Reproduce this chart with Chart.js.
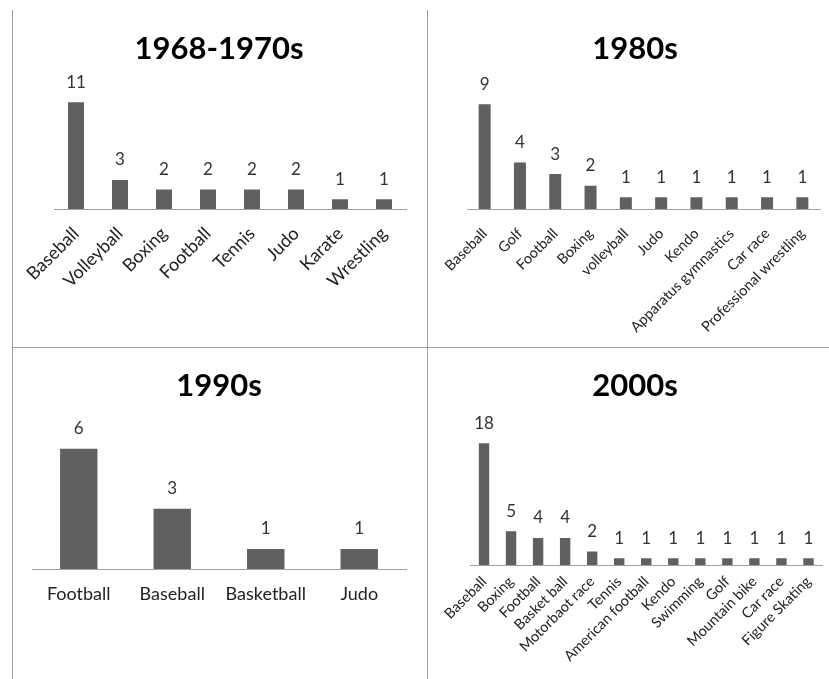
<!DOCTYPE html>
<html>
<head>
<meta charset="utf-8">
<script src="https://cdn.jsdelivr.net/npm/chart.js@4.4.1/dist/chart.umd.min.js"></script>
<style>
  html, body { margin: 0; padding: 0; background: #fff; }
  #page { position: relative; width: 829px; height: 679px; overflow: hidden; }
  .rule { position: absolute; background: #a0a0a0; }
  canvas { position: absolute; }
</style>
</head>
<body>
<div id="page">
  <div class="rule" style="left:12px; top:10px; width:1px; height:669px;"></div>
  <div class="rule" style="left:427px; top:10px; width:1px; height:669px;"></div>
  <div class="rule" style="left:12px; top:347px; width:817px; height:1px;"></div>
  <canvas id="c1968" width="413" height="346" style="left:13px; top:0px;"></canvas>
  <canvas id="c1980" width="401" height="346" style="left:428px; top:0px;"></canvas>
  <canvas id="c1990" width="413" height="331" style="left:13px; top:348px;"></canvas>
  <canvas id="c2000" width="401" height="331" style="left:428px; top:348px;"></canvas>
</div>
<script>
// ---- data ----
const cats1968 = ['Baseball', 'Volleyball', 'Boxing', 'Football', 'Tennis', 'Judo', 'Karate', 'Wrestling'];
const vals1968 = [11, 3, 2, 2, 2, 2, 1, 1];

const cats1980 = ['Baseball', 'Golf', 'Football', 'Boxing', 'volleyball', 'Judo', 'Kendo',
                  'Apparatus gymnastics', 'Car race', 'Professional wrestling'];
const vals1980 = [9, 4, 3, 2, 1, 1, 1, 1, 1, 1];

const cats1990 = ['Football', 'Baseball', 'Basketball', 'Judo'];
const vals1990 = [6, 3, 1, 1];

const cats2000 = ['Baseball', 'Boxing', 'Football', 'Basket ball', 'Motorbaot race', 'Tennis',
                  'American football', 'Kendo', 'Swimming', 'Golf', 'Mountain bike', 'Car race',
                  'Figure Skating'];
const vals2000 = [18, 5, 4, 4, 2, 1, 1, 1, 1, 1, 1, 1, 1];

const FONT = 'Lato, "Open Sans", sans-serif';
const BAR = '#606060';

// value labels above each bar
const valueLabels = {
    id: 'valueLabels',
    afterDatasetsDraw(chart) {
        const ctx = chart.ctx;
        const meta = chart.getDatasetMeta(0);
        const data = chart.data.datasets[0].data;
        ctx.save();
        ctx.font = '17px ' + FONT;
        ctx.fillStyle = '#333';
        ctx.textAlign = 'center';
        ctx.textBaseline = 'middle';
        meta.data.forEach((bar, i) => {
            ctx.fillText(String(data[i]), bar.x, bar.y - 20);
        });
        ctx.restore();
    }
};

function makeChart(id, title, cats, vals, o) {
    return new Chart(document.getElementById(id), {
        type: 'bar',
        data: {
            labels: cats,
            datasets: [{
                data: vals,
                backgroundColor: BAR,
                categoryPercentage: 1,
                barPercentage: o.bar
            }]
        },
        options: {
            responsive: false,
            animation: false,
            devicePixelRatio: 1,
            layout: { padding: { left: o.padL, right: o.padR, top: 0, bottom: 0 } },
            plugins: {
                legend: { display: false },
                tooltip: { enabled: false },
                title: {
                    display: true,
                    text: title,
                    color: '#000',
                    font: { family: FONT, size: 31, weight: 'bold' },
                    padding: { top: o.titleTop, bottom: o.titleBottom }
                }
            },
            scales: {
                x: {
                    grid: { display: false, drawTicks: false },
                    border: { display: true, color: '#a0a0a0', width: 1 },
                    ticks: {
                        autoSkip: false,
                        minRotation: o.rot,
                        maxRotation: o.rot,
                        padding: o.tickPad,
                        color: '#222',
                        font: { family: FONT, size: o.tickSize }
                    },
                    afterFit(scale) {
                        scale.height = o.xHeight;
                        scale.paddingLeft = 0;
                        scale.paddingRight = 0;
                    }
                },
                y: {
                    min: 0,
                    max: o.max,
                    grid: { display: false, drawTicks: false },
                    border: { display: false },
                    ticks: { display: false },
                    afterFit(scale) {
                        scale.width = o.yWidth;
                        scale.paddingTop = 0;
                        scale.paddingBottom = 0;
                    }
                }
            }
        },
        plugins: [valueLabels]
    });
}

makeChart('c1968', '1968-1970s', cats1968, vals1968, {
    bar: 0.364, padL: 19, padR: 20, yWidth: 22, max: 12,
    titleTop: 30.6, titleBottom: 24.7, rot: 45, tickPad: 14, tickSize: 18, xHeight: 137
});
makeChart('c1980', '1980s', cats1980, vals1980, {
    bar: 0.34, padL: 22, padR: 9, yWidth: 17, max: 10,
    titleTop: 30.6, titleBottom: 24.7, rot: 45, tickPad: 16, tickSize: 14.5, xHeight: 137
});
makeChart('c1990', '1990s', cats1990, vals1990, {
    bar: 0.40, padL: 19, padR: 20, yWidth: 0, max: 7,
    titleTop: 19.6, titleBottom: 23.8, rot: 0, tickPad: 14, tickSize: 18, xHeight: 110
});
makeChart('c2000', '2000s', cats2000, vals2000, {
    bar: 0.385, padL: 20, padR: 7, yWidth: 22.5, max: 20,
    titleTop: 19.6, titleBottom: 24.9, rot: 45, tickPad: 8, tickSize: 14.5, xHeight: 114
});
</script>
</body>
</html>
